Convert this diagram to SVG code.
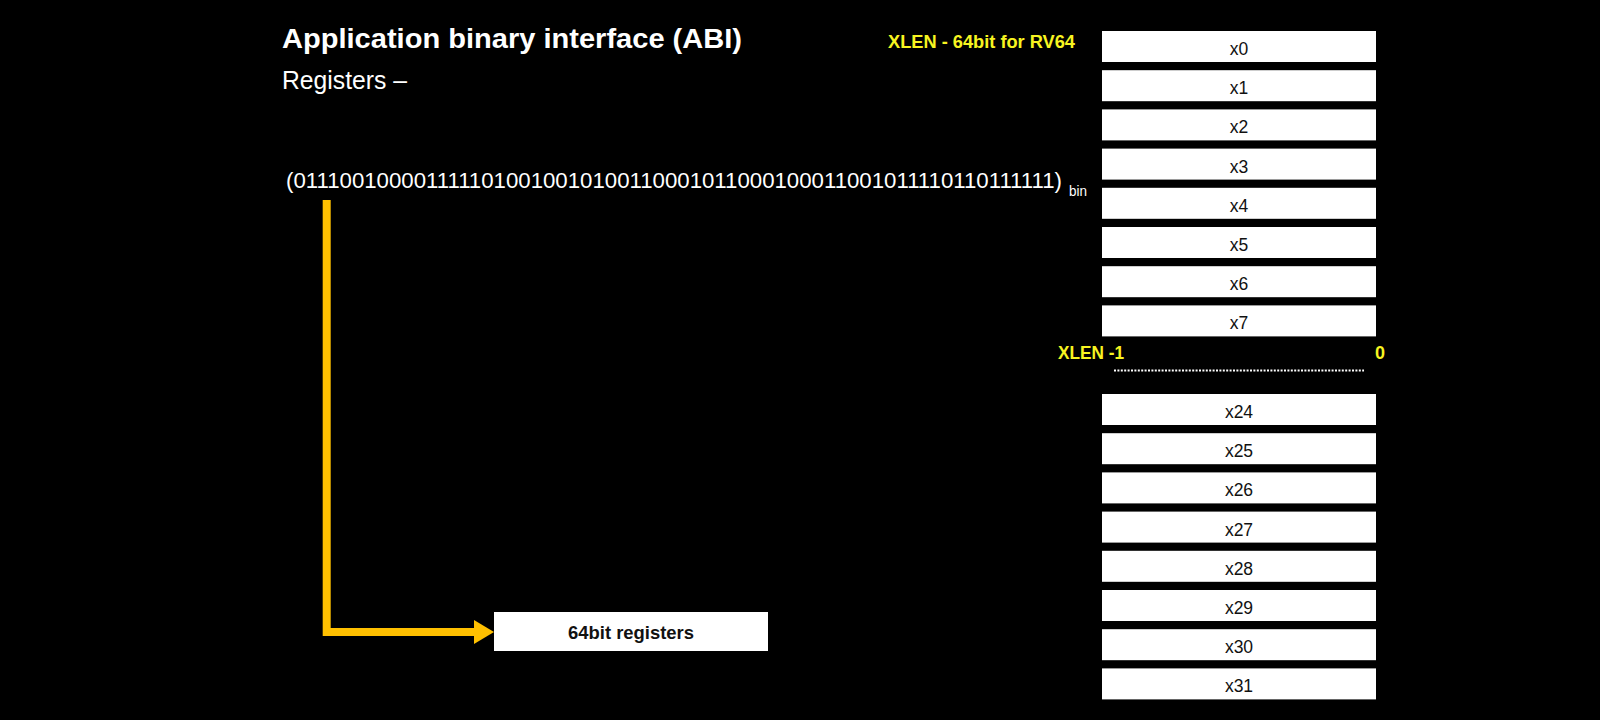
<svg xmlns="http://www.w3.org/2000/svg" width="1600" height="720" viewBox="0 0 1600 720">
<defs>
<style>
.bg{fill:#000}
.reg rect{fill:#fff}
.reg text{font-family:"Liberation Sans",Arial,sans-serif;font-size:17.5px;fill:#111;text-anchor:middle}
.w{fill:#fff;font-family:"Liberation Sans",Arial,sans-serif}
.y{fill:#F7F420;font-family:"Liberation Sans",Arial,sans-serif;font-weight:bold}
</style>
<marker id="ah" markerWidth="20" markerHeight="24" refX="0" refY="12" markerUnits="userSpaceOnUse" orient="auto">
<path d="M0,0 L20,12 L0,24 Z" fill="#FFC000"/>
</marker>
</defs>
<rect class="bg" x="0" y="0" width="1600" height="720"/>
<g id="title">
<text class="w" x="282" y="48" font-size="28" font-weight="bold" textLength="460" lengthAdjust="spacingAndGlyphs">Application binary interface (ABI)</text>
<text class="w" x="282" y="89" font-size="25" textLength="125" lengthAdjust="spacingAndGlyphs">Registers –</text>
</g>
<g id="binary">
<text class="w" x="286" y="188" font-size="21.5" textLength="776" lengthAdjust="spacingAndGlyphs">(0111001000011111010010010100110001011000100011001011110110111111)</text>
<text class="w" x="1069" y="196" font-size="14" textLength="18" lengthAdjust="spacingAndGlyphs">bin</text>
</g>
<g id="xlen-label">
<text class="y" x="888" y="48" font-size="18" textLength="187" lengthAdjust="spacingAndGlyphs">XLEN - 64bit for RV64</text>
</g>
<g id="bit-labels">
<text class="y" x="1058" y="359" font-size="18" textLength="66" lengthAdjust="spacingAndGlyphs">XLEN -1</text>
<text class="y" x="1385" y="359" font-size="18" text-anchor="end">0</text>
</g>
<g id="dots">
<line x1="1114" y1="370.5" x2="1364" y2="370.5" stroke="#fff" stroke-width="2" stroke-dasharray="2,1.4"/>
</g>
<g id="x0" class="reg"><rect x="1102" y="31" width="274" height="31"/><text x="1239" y="55">x0</text></g>
<g id="x1" class="reg"><rect x="1102" y="70.2" width="274" height="31"/><text x="1239" y="94.2">x1</text></g>
<g id="x2" class="reg"><rect x="1102" y="109.4" width="274" height="31"/><text x="1239" y="133.4">x2</text></g>
<g id="x3" class="reg"><rect x="1102" y="148.6" width="274" height="31"/><text x="1239" y="172.6">x3</text></g>
<g id="x4" class="reg"><rect x="1102" y="187.8" width="274" height="31"/><text x="1239" y="211.8">x4</text></g>
<g id="x5" class="reg"><rect x="1102" y="227" width="274" height="31"/><text x="1239" y="251">x5</text></g>
<g id="x6" class="reg"><rect x="1102" y="266.2" width="274" height="31"/><text x="1239" y="290.2">x6</text></g>
<g id="x7" class="reg"><rect x="1102" y="305.4" width="274" height="31"/><text x="1239" y="329.4">x7</text></g>
<g id="x24" class="reg"><rect x="1102" y="394" width="274" height="31"/><text x="1239" y="418">x24</text></g>
<g id="x25" class="reg"><rect x="1102" y="433.2" width="274" height="31"/><text x="1239" y="457.2">x25</text></g>
<g id="x26" class="reg"><rect x="1102" y="472.4" width="274" height="31"/><text x="1239" y="496.4">x26</text></g>
<g id="x27" class="reg"><rect x="1102" y="511.6" width="274" height="31"/><text x="1239" y="535.6">x27</text></g>
<g id="x28" class="reg"><rect x="1102" y="550.8" width="274" height="31"/><text x="1239" y="574.8">x28</text></g>
<g id="x29" class="reg"><rect x="1102" y="590" width="274" height="31"/><text x="1239" y="614">x29</text></g>
<g id="x30" class="reg"><rect x="1102" y="629.2" width="274" height="31"/><text x="1239" y="653.2">x30</text></g>
<g id="x31" class="reg"><rect x="1102" y="668.4" width="274" height="31"/><text x="1239" y="692.4">x31</text></g>
<g id="reg64">
<rect x="494" y="612" width="274" height="39" fill="#fff"/>
<text x="631" y="639" font-family="'Liberation Sans',Arial,sans-serif" font-size="19" font-weight="bold" fill="#111" text-anchor="middle" textLength="126" lengthAdjust="spacingAndGlyphs">64bit registers</text>
</g>
<g id="connectors">
<path d="M326.7,200 V632 H474" fill="none" stroke="#FFC000" stroke-width="8" marker-end="url(#ah)"/>
</g>
</svg>
